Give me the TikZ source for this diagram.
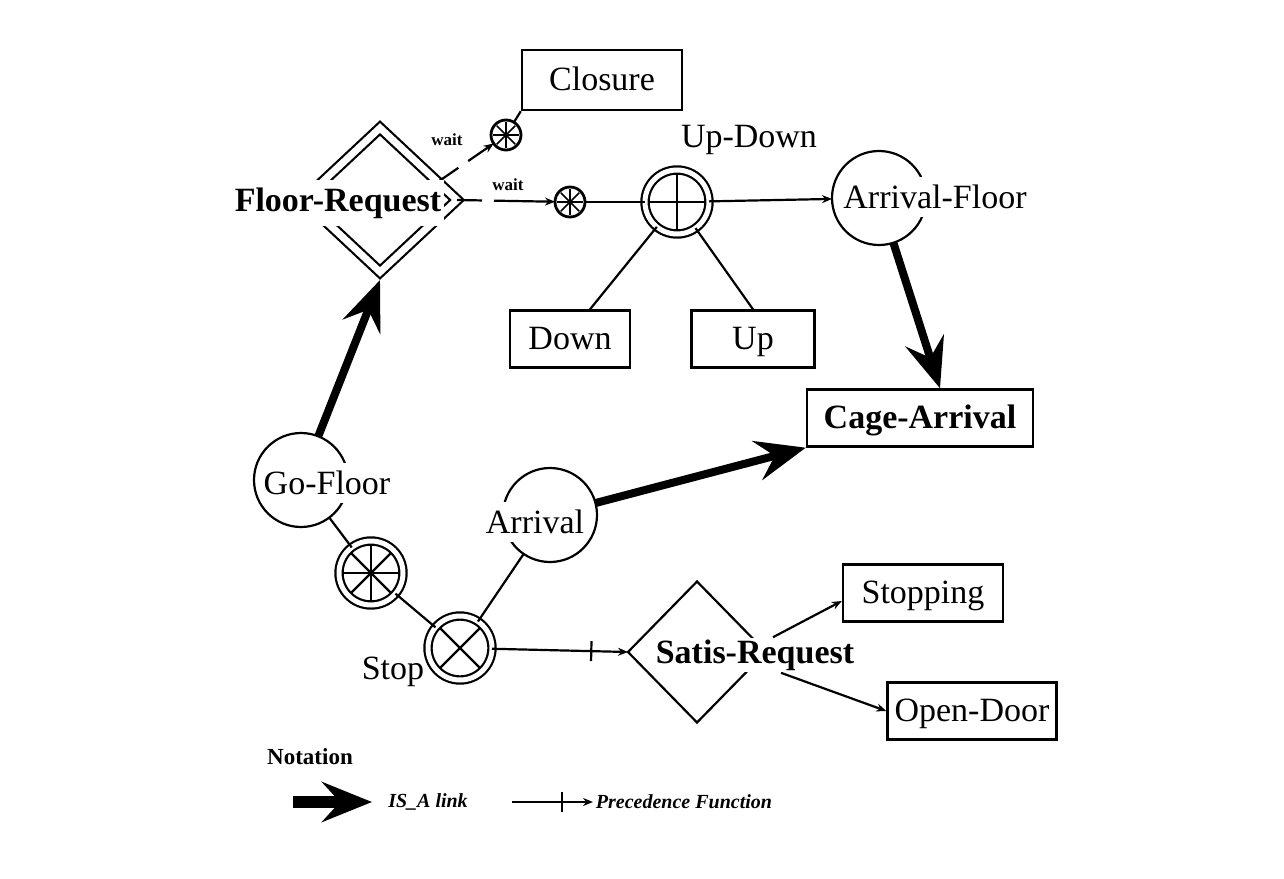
\documentclass[tikz,border=0pt]{standalone}
\usepackage{fontspec}
\setmainfont{Liberation Serif}
\usetikzlibrary{arrows.meta, positioning, shapes.geometric, calc, decorations.markings}
\newcommand{\lblfont}{\fontsize{17}{20}\selectfont}
\newcommand{\waitfont}{\fontsize{8.5}{10}\selectfont\bfseries}
\newcommand{\legendfont}{\fontsize{10}{12}\selectfont\bfseries\itshape}
\tikzset{
    box/.style={draw, line width=1.2pt, fill=white, font=\lblfont, minimum height=28.5pt, inner sep=2pt,
                text height=12pt, text depth=2pt},
    concept/.style={circle, draw, line width=1.1pt, minimum size=47pt, inner sep=0pt, outer sep=0pt},
    junction/.style={circle, draw, double, double distance=2.5pt, line width=1.1pt, minimum size=32pt,
                     inner sep=0pt, outer sep=0pt},
    wheel/.style={circle, draw, line width=1.4pt, minimum size=15pt, inner sep=0pt, outer sep=0pt},
    twindiamond/.style={diamond, draw, double, double distance=3.5pt, line width=1.1pt, inner sep=0pt, outer sep=0pt},
    plaindiamond/.style={diamond, draw, line width=1.1pt, inner sep=0pt, outer sep=0pt},
    lbl/.style={font=\lblfont, fill=white, inner xsep=1.5pt, inner ysep=4pt},
    lblb/.style={lbl, font=\lblfont\bfseries},
    line/.style={line width=1.1pt},
    spoke/.style={line width=1.1pt},
    arrow/.style={line width=1.1pt, -{Stealth[length=5pt, width=4pt]}},
    waitarrow/.style={arrow, dash pattern=on 12.5pt off 6pt on 300pt},
    isa/.style={line width=4pt, -{Stealth[length=25pt, width=20pt, inset=9pt]}},
    prec/.style={arrow, postaction={decorate, decoration={markings,
                 mark=at position #1 with {\draw[-, line width=1.1pt] (0pt,-5pt) -- (0pt,5pt);}}}},
    prec/.default=0.7,
}

\begin{document}
\begin{tikzpicture}[x=0.5pt, y=-0.5pt]
    \useasboundingbox (0,0) rectangle (1284,878);
    % shapes
    \node[twindiamond, minimum width=77pt, minimum height=72pt] (floorreq) at (380,200) {};
    \node[box, minimum width=80pt, minimum height=30pt] (closure) at (602,80) {Closure};
    \node[wheel] (waitclose) at (506,135) {};
    \node[wheel] (waitmove) at (570,202) {};
    \node[junction] (updown) at (677,202) {};
    \node[concept] (arrfloor) at (879,198) {};
    \node[box, minimum width=60pt] (down) at (570,339) {Down};
    \node[box, minimum width=61.5pt] (up) at (753,339) {Up};
    \node[box, minimum width=113pt, font=\lblfont\bfseries] (cage) at (920,418) {Cage-Arrival};
    \node[concept] (gofloor) at (301,480) {};
    \node[concept] (arrival) at (550,515) {};
    \node[junction] (goswitch) at (371,573) {};
    \node[junction] (stop) at (460,648) {};
    \node[plaindiamond, minimum width=69pt, minimum height=70.5pt] (satis) at (697,652) {};
    \node[box, minimum width=80pt] (stopping) at (923,593) {Stopping};
    \node[box, minimum width=84.5pt] (opendoor) at (972,711) {Open-Door};
    % spokes
    \foreach \a in {0,90,180,270} \draw[spoke] (updown.center) -- +(\a:14pt);
    \foreach \a in {45,135,225,315} \draw[spoke] (stop.center) -- +(\a:14pt);
    \foreach \a in {0,45,...,315} \draw[spoke] (goswitch.center) -- +(\a:14pt);
    \foreach \a in {0,45,...,315} \draw[line width=0.8pt] (waitclose.center) -- +(\a:6.5pt);
    \foreach \a in {0,45,...,315} \draw[line width=0.8pt] (waitmove.center) -- +(\a:6.5pt);
    % connectors
    \coordinate (floorreq-edge) at ($(floorreq.north)!0.75!(floorreq.east)$);
    \draw[waitarrow] (floorreq-edge) -- (waitclose);
    \draw[line] (waitclose) -- (closure.south west);
    \draw[waitarrow] (floorreq.east) -- (waitmove);
    \draw[line] (waitmove) -- (updown);
    \draw[arrow] (updown) -- (arrfloor);
    \draw[line] (updown) -- ([xshift=10pt]down.north);
    \draw[line] (updown) -- (up.north);
    \draw[isa] (arrfloor) -- ([xshift=10pt]cage.north);
    \draw[isa] (gofloor) -- ([yshift=-4pt]floorreq.south);
    \draw[isa] (arrival) -- (cage.south west);
    \draw[line] (gofloor) -- (goswitch);
    \draw[line] (goswitch) -- (stop);
    \draw[line] (stop) -- (arrival);
    \draw[prec=0.73] (stop) -- (satis.west);
    % labels
    \node[lblb] (floorreq-t) at (338,203) {Floor-Request};
    \node[lbl] (gofloor-t) at (327,483) {Go-Floor};
    \node[lbl] (arrival-t) at (535,522) {Arrival};
    \node[lbl] (arrfloor-t) at (935,197) {Arrival-Floor};
    \node[lblb, inner ysep=1pt] (satis-t) at (755,655) {Satis-Request};
    \node[font=\lblfont] (updown-t) at (749,140) {Up-Down};
    \node[font=\lblfont] (stop-t) at (393,672) {Stop};
    \node[font=\waitfont] (wait-close) at (447,140) {wait};
    \node[font=\waitfont] (wait-move) at (508,185) {wait};
    \draw[arrow] ([xshift=9pt]satis-t.north) -- ([yshift=-4pt]stopping.west);
    \draw[arrow] ([xshift=13pt]satis-t.south) -- (opendoor.west);
    % notation
    \node[font=\fontsize{11.5}{13}\selectfont\bfseries] (notation) at (310,757) {Notation};
    \coordinate (isa-a) at (293,802);
    \coordinate (isa-b) at (372,802);
    \draw[isa, line width=6pt] (isa-a) -- (isa-b);
    \node[font=\legendfont] (isa-t) at (428,802) {IS\_A link};
    \coordinate (prec-a) at (512,802);
    \coordinate (prec-b) at (593,802);
    \draw[prec=0.62] (prec-a) -- (prec-b);
    \node[font=\legendfont] (prec-t) at (684,802) {Precedence Function};
\end{tikzpicture}
\end{document}
